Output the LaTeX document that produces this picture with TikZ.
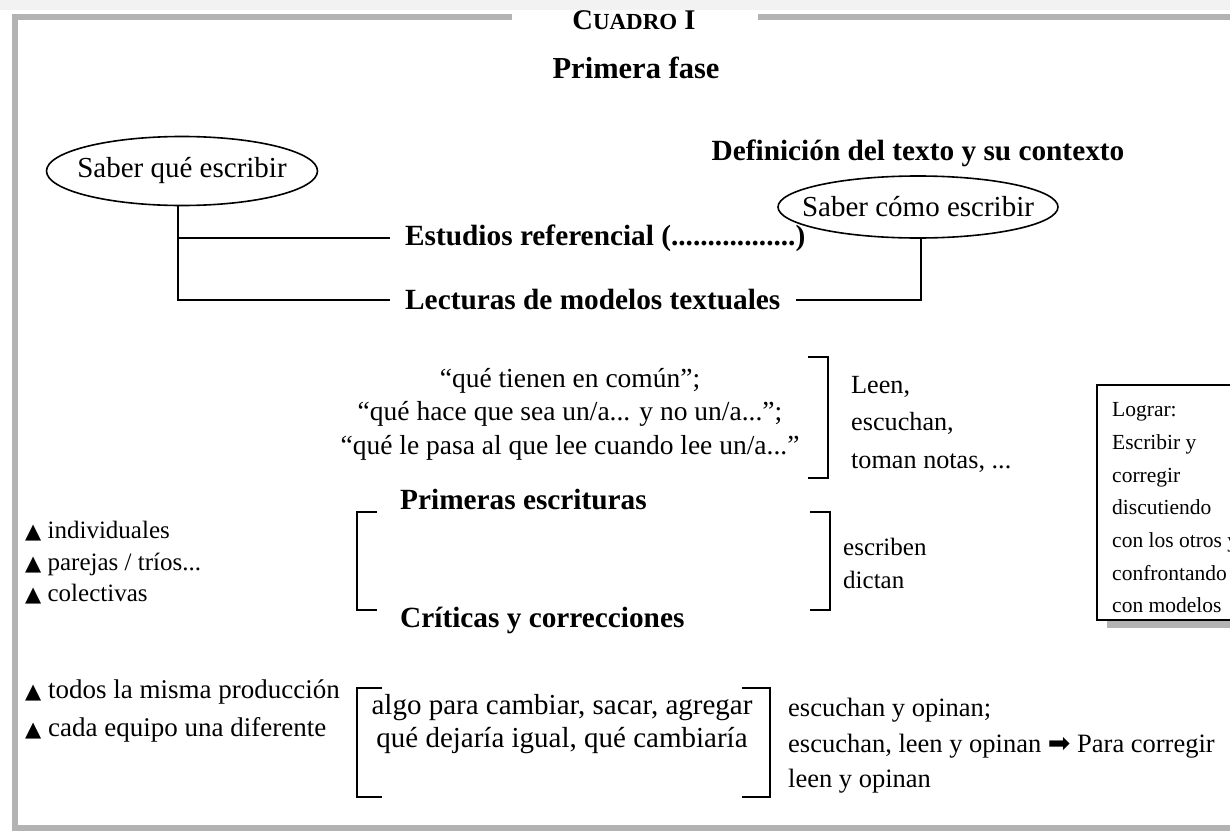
\documentclass[tikz,border=0pt]{standalone}
\usepackage{fontspec}
\setmainfont{Liberation Serif}
\newfontfamily\symfont{DejaVu Sans}
\usetikzlibrary{shapes.geometric}
\definecolor{framegray}{HTML}{B3B3B3}
\definecolor{stripgray}{HTML}{F2F2F2}
\newcommand{\tri}{{\symfont\fontsize{21}{21}\selectfont ▲}}
\begin{document}
\begin{tikzpicture}[x=1pt,y=-1pt,
  reg/.style={inner sep=0pt,font=\fontsize{27.5}{33}\selectfont},
  bld/.style={inner sep=0pt,inner xsep=15pt,font=\fontsize{29.3}{34}\bfseries\selectfont},
  oval/.style={draw,ellipse,line width=1.6pt,inner sep=0pt},
  ovtext/.style={inner sep=0pt,font=\fontsize{29}{34}\selectfont},
  conn/.style={line width=1.8pt},
  brk/.style={line width=1.8pt}]
\useasboundingbox (0,0) rectangle (1230,832);
% frame
\draw[framegray,line width=6pt] (512,17.5) -- (15,17.5) -- (15,828) -- (1240,828);
\draw[framegray,line width=6pt] (758,17.5) -- (1240,17.5);
% titles
\node[inner sep=0pt,anchor=base] (cuadro) at (634,29.5) {\fontsize{28.5}{32}\selectfont\bfseries C{\fontsize{23}{26}\selectfont UADRO} I};
\fill[stripgray] (0,0) rectangle (1230,10);
\node[inner sep=0pt] (fase) at (636,68) {\fontsize{30.5}{36}\bfseries\selectfont Primera fase};
\node[inner sep=0pt] (def) at (918,153) {\fontsize{29.3}{34}\bfseries\selectfont Definición del texto y su contexto};
% ovals
\node[oval,minimum width=271pt,minimum height=69pt] (s1) at (182,171) {};
\node[ovtext] (s1t) at (s1.center) {Saber qué escribir};
\node[oval,minimum width=280pt,minimum height=62pt] (s2) at (918,207) {};
\node[ovtext] (s2t) at (s2.center) {Saber cómo escribir};
% bold items
\node[bld,anchor=west] (est) at (390,238) {Estudios referencial (.................)};
\node[bld,anchor=west] (lec) at (390,300) {Lecturas de modelos textuales};
\node[bld,anchor=west] (pri) at (385,500) {Primeras escrituras};
\node[bld,anchor=west] (cri) at (385,620) {Críticas y correcciones};
% connectors
\draw[conn] ([xshift=-4pt]s1.south) |- (lec.west);
\draw[conn] ([xshift=-4pt]s1.south |- est.west) -- (est.west);
\draw[conn] (lec.east) -| ([xshift=3pt]s2.south);
% quotes block
\node[reg,align=center] (q) at (570,414) {“qué tienen en común”;\\[0.5pt]“qué hace que sea un/a... y no un/a...”;\\[0.5pt]“qué le pasa al que lee cuando lee un/a...”};
\draw[brk] (808,357) -- (828,357) -- (828,478) -- (808,478);
\node[reg,align=left,anchor=west,font=\fontsize{26.2}{37.5}\selectfont] (leen) at (851,424) {Leen,\\escuchan,\\toman notas, ...};
% left list
\node[reg,align=left,anchor=west,font=\fontsize{25}{31.5}\selectfont] (lst1) at (25,563) {\tri{} individuales\\\tri{} parejas / tríos...\\\tri{} colectivas};
% second brackets
\draw[brk] (377,512) -- (357,512) -- (357,610) -- (377,610);
\draw[brk] (810,512) -- (830,512) -- (830,610) -- (810,610);
\node[reg,align=left,anchor=west,font=\fontsize{25}{33}\selectfont] (esc) at (843,563) {escriben\\dictan};
% lograr box
\fill[framegray] (1107,395) rectangle (1245,628);
\draw[line width=1.8pt,fill=white] (1097,385) rectangle (1240,620);
\node[reg,align=left,anchor=north west,font=\fontsize{21.5}{32.7}\selectfont] (lograr) at (1112,402.5) {Lograr:\\Escribir y\\corregir\\discutiendo\\con los otros y\\confrontando\\con modelos};
% third part
\node[reg,align=left,anchor=west,font=\fontsize{27}{38}\selectfont] (lst2) at (25,711) {\tri{} todos la misma producción\\\tri{} cada equipo una diferente};
\draw[brk] (382,688) -- (357,688) -- (357,797) -- (382,797);
\node[reg,align=center,font=\fontsize{29}{33}\selectfont] (algo) at (562,724) {algo para cambiar, sacar, agregar\\qué dejaría igual, qué cambiaría};
\draw[brk] (742,688) -- (770,688) -- (770,797) -- (742,797);
\node[reg,align=left,anchor=west,font=\fontsize{26.5}{35.5}\selectfont] (opin) at (788,746) {escuchan y opinan;\\escuchan, leen y opinan {\symfont\fontsize{27}{27}\selectfont ➡} Para corregir\\leen y opinan};
\end{tikzpicture}
\end{document}
